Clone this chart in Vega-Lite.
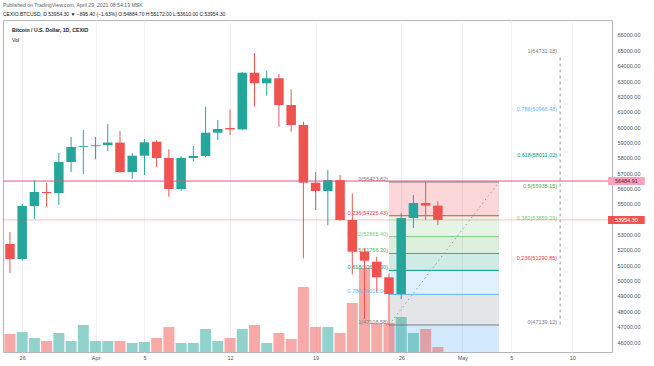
{
  "$schema": "https://vega.github.io/schema/vega-lite/v6.json",
  "width": 609,
  "height": 332,
  "autosize": {"type": "none"},
  "padding": {"left": 3, "top": 20, "right": 42, "bottom": 14},
  "background": "#ffffff",
  "config": {
    "font": "Liberation Sans",
    "view": {"stroke": "#b2b5be", "strokeWidth": 1},
    "axisX": {"labelFontSize": 5.5, "labelColor": "#4c525e", "labelPadding": 3, "labelFlush": false, "labelOverlap": false, "ticks": false, "domain": false, "grid": true, "gridColor": "#eef0f4", "gridWidth": 1},
    "axisY": {"labelFontSize": 5.5, "labelColor": "#4c525e", "labelPadding": 5, "labelFlush": false, "labelOverlap": false, "ticks": false, "domain": false, "grid": true, "gridColor": "#eef0f4", "gridWidth": 1}
  },
  "title": {
    "text": "Published on TradingView.com, April 29, 2021 08:54:13 MSK",
    "subtitle": "CEXIO:BTCUSD, D 53954.30 ▼ −895.40 (−1.63%) O:54884.70 H:55172.00 L:53610.00 C:53954.30",
    "anchor": "start",
    "frame": "group",
    "offset": 3,
    "fontSize": 5.2,
    "fontWeight": "normal",
    "color": "#5d606b",
    "subtitleFontSize": 5,
    "subtitleColor": "#131722",
    "subtitleFontWeight": "normal",
    "subtitlePadding": 4
  },
  "datasets": {
    "candles": [
      {"date": "2021-03-25", "open": 52384, "high": 53166, "low": 50494, "close": 51407, "volume": 900},
      {"date": "2021-03-26", "open": 51407, "high": 55000, "low": 51300, "close": 54859, "volume": 1000},
      {"date": "2021-03-27", "open": 54859, "high": 56553, "low": 54012, "close": 55771, "volume": 700},
      {"date": "2021-03-28", "open": 55771, "high": 56358, "low": 54794, "close": 55700, "volume": 550},
      {"date": "2021-03-29", "open": 55700, "high": 58312, "low": 54925, "close": 57726, "volume": 950},
      {"date": "2021-03-30", "open": 57726, "high": 59354, "low": 57074, "close": 58703, "volume": 550},
      {"date": "2021-03-31", "open": 58703, "high": 59811, "low": 56944, "close": 58760, "volume": 1350},
      {"date": "2021-04-01", "open": 58760, "high": 59354, "low": 57902, "close": 58820, "volume": 550},
      {"date": "2021-04-02", "open": 58820, "high": 60202, "low": 58443, "close": 58990, "volume": 550},
      {"date": "2021-04-03", "open": 58990, "high": 59746, "low": 57000, "close": 57074, "volume": 550},
      {"date": "2021-04-04", "open": 57074, "high": 58312, "low": 56618, "close": 58137, "volume": 450},
      {"date": "2021-04-05", "open": 58137, "high": 59224, "low": 56879, "close": 59009, "volume": 500},
      {"date": "2021-04-06", "open": 59050, "high": 59150, "low": 57380, "close": 57987, "volume": 700},
      {"date": "2021-04-07", "open": 57987, "high": 58553, "low": 55465, "close": 55967, "volume": 1250},
      {"date": "2021-04-08", "open": 55967, "high": 58100, "low": 55837, "close": 57987, "volume": 450},
      {"date": "2021-04-09", "open": 57987, "high": 58768, "low": 57746, "close": 58117, "volume": 450},
      {"date": "2021-04-10", "open": 58117, "high": 61329, "low": 58032, "close": 59635, "volume": 1150},
      {"date": "2021-04-11", "open": 59635, "high": 60462, "low": 59159, "close": 59876, "volume": 550},
      {"date": "2021-04-12", "open": 59940, "high": 61159, "low": 59485, "close": 59850, "volume": 700},
      {"date": "2021-04-13", "open": 59850, "high": 63600, "low": 59800, "close": 63544, "volume": 1150},
      {"date": "2021-04-14", "open": 63544, "high": 64827, "low": 61329, "close": 62853, "volume": 1350},
      {"date": "2021-04-15", "open": 62853, "high": 63674, "low": 62045, "close": 63179, "volume": 450},
      {"date": "2021-04-16", "open": 63179, "high": 63459, "low": 60026, "close": 61440, "volume": 950},
      {"date": "2021-04-17", "open": 61440, "high": 62463, "low": 59700, "close": 60137, "volume": 650},
      {"date": "2021-04-18", "open": 60137, "high": 60352, "low": 51452, "close": 56377, "volume": 3250},
      {"date": "2021-04-19", "open": 56377, "high": 57074, "low": 54599, "close": 55837, "volume": 1250},
      {"date": "2021-04-20", "open": 55837, "high": 57205, "low": 53622, "close": 56553, "volume": 1250},
      {"date": "2021-04-21", "open": 56553, "high": 56879, "low": 53900, "close": 53947, "volume": 950},
      {"date": "2021-04-22", "open": 53947, "high": 55687, "low": 50400, "close": 51883, "volume": 2450},
      {"date": "2021-04-23", "open": 51883, "high": 52123, "low": 47500, "close": 51296, "volume": 4200},
      {"date": "2021-04-24", "open": 51231, "high": 51557, "low": 49275, "close": 50214, "volume": 1450},
      {"date": "2021-04-25", "open": 50214, "high": 50475, "low": 47108.58, "close": 49126, "volume": 1450},
      {"date": "2021-04-26", "open": 49126, "high": 54404, "low": 48800, "close": 54077, "volume": 1750},
      {"date": "2021-04-27", "open": 54077, "high": 55576, "low": 53426, "close": 55055, "volume": 950},
      {"date": "2021-04-28", "open": 55055, "high": 56423.82, "low": 53947, "close": 54884.7, "volume": 1150},
      {"date": "2021-04-29", "open": 54884.7, "high": 55172.0, "low": 53610.0, "close": 53954.3, "volume": 250}
    ],
    "fibA": [
      {"lvl": "0", "price": 56423.82, "label": "0(56423.82)", "date": "2021-04-25", "end": "2021-05-04"},
      {"lvl": "0.236", "price": 54225.43, "label": "0.236(54225.43)", "date": "2021-04-25", "end": "2021-05-04"},
      {"lvl": "0.382", "price": 52865.40, "label": "0.382(52865.40)", "date": "2021-04-25", "end": "2021-05-04"},
      {"lvl": "0.5", "price": 51766.20, "label": "0.5(51766.20)", "date": "2021-04-25", "end": "2021-05-04"},
      {"lvl": "0.618", "price": 50667.00, "label": "0.618(50667.00)", "date": "2021-04-25", "end": "2021-05-04"},
      {"lvl": "0.786", "price": 49102.04, "label": "0.786(49102.04)", "date": "2021-04-25", "end": "2021-05-04"},
      {"lvl": "1", "price": 47108.58, "label": "1(47108.58)", "date": "2021-04-25", "end": "2021-05-04"}
    ],
    "fibABands": [
      {"lvl": "0.236", "top": 56423.82, "bottom": 54225.43, "date": "2021-04-25", "end": "2021-05-04"},
      {"lvl": "0.382", "top": 54225.43, "bottom": 52865.40, "date": "2021-04-25", "end": "2021-05-04"},
      {"lvl": "0.5", "top": 52865.40, "bottom": 51766.20, "date": "2021-04-25", "end": "2021-05-04"},
      {"lvl": "0.618", "top": 51766.20, "bottom": 50667.00, "date": "2021-04-25", "end": "2021-05-04"},
      {"lvl": "0.786", "top": 50667.00, "bottom": 49102.04, "date": "2021-04-25", "end": "2021-05-04"},
      {"lvl": "1", "top": 49102.04, "bottom": 47108.58, "date": "2021-04-25", "end": "2021-05-04"},
      {"lvl": "1.618", "top": 47108.58, "bottom": 41351.76, "date": "2021-04-25", "end": "2021-05-04"}
    ],
    "fibB": [
      {"lvl": "1", "price": 64731.18, "label": "1(64731.18)", "date": "2021-05-09"},
      {"lvl": "0.786", "price": 60966.48, "label": "0.786(60966.48)", "date": "2021-05-09"},
      {"lvl": "0.618", "price": 58011.02, "label": "0.618(58011.02)", "date": "2021-05-09"},
      {"lvl": "0.5", "price": 55935.15, "label": "0.5(55935.15)", "date": "2021-05-09"},
      {"lvl": "0.382", "price": 53859.29, "label": "0.382(53859.29)", "date": "2021-05-09"},
      {"lvl": "0.236", "price": 51290.85, "label": "0.236(51290.85)", "date": "2021-05-09"},
      {"lvl": "0", "price": 47139.12, "label": "0(47139.12)", "date": "2021-05-09"}
    ],
    "trend": [
      {"date": "2021-04-25", "price": 47108.58},
      {"date": "2021-05-04", "price": 56423.82}
    ],
    "fibBLine": [
      {"date": "2021-05-09", "from": 47139.12, "to": 64731.18}
    ],
    "one": [{}]
  },
  "resolve": {"scale": {"y": "independent"}},
  "layer": [
    {
      "data": {"name": "fibABands"},
      "mark": {"type": "rect", "opacity": 0.2, "clip": true},
      "encoding": {
        "x": {"field": "date", "type": "temporal",
              "scale": {"type": "utc", "nice": false, "domain": [1616616600000, 1620849600000]},
              "axis": {"title": null, "values": [1616716800000, 1617235200000, 1617580800000, 1618185600000, 1618790400000, 1619395200000, 1619827200000, 1620172800000, 1620604800000], "labelExpr": "utcdate(datum.value) == 1 ? utcFormat(datum.value, '%b') : utcFormat(datum.value, '%-d')"}},
        "x2": {"field": "end"},
        "y": {"field": "top", "type": "quantitative", "axis": null, "scale": {"domain": [45349, 66977], "nice": false, "zero": false}},
        "y2": {"field": "bottom"},
        "color": {"field": "lvl", "type": "nominal", "legend": null,
                  "scale": {"domain": ["0", "0.236", "0.382", "0.5", "0.618", "0.786", "1", "1.618"],
                            "range": ["#787b86", "#f23645", "#81c784", "#4caf50", "#089981", "#64b5f6", "#787b86", "#2196f3"]}}
      }
    },
    {
      "data": {"name": "candles"},
      "mark": {"type": "bar", "size": 11, "opacity": 0.5, "clip": true},
      "encoding": {
        "x": {"field": "date", "type": "temporal",
              "scale": {"type": "utc", "nice": false, "domain": [1616616600000, 1620849600000]},
              "axis": {"title": null, "values": [1616716800000, 1617235200000, 1617580800000, 1618185600000, 1618790400000, 1619395200000, 1619827200000, 1620172800000, 1620604800000], "labelExpr": "utcdate(datum.value) == 1 ? utcFormat(datum.value, '%b') : utcFormat(datum.value, '%-d')"}},
        "y": {"field": "volume", "type": "quantitative", "axis": null, "scale": {"domain": [0, 16600], "nice": false}},
        "color": {"condition": {"test": "datum.close >= datum.open", "value": "#26a69a"}, "value": "#ef5350"}
      }
    },
    {
      "layer": [
        {
          "data": {"name": "fibA"},
          "mark": {"type": "rule", "strokeWidth": 1},
          "encoding": {
            "x": {"field": "date", "type": "temporal",
                  "scale": {"type": "utc", "nice": false, "domain": [1616616600000, 1620849600000]},
                  "axis": {"title": null, "values": [1616716800000, 1617235200000, 1617580800000, 1618185600000, 1618790400000, 1619395200000, 1619827200000, 1620172800000, 1620604800000], "labelExpr": "utcdate(datum.value) == 1 ? utcFormat(datum.value, '%b') : utcFormat(datum.value, '%-d')"}},
            "x2": {"field": "end"},
            "y": {"field": "price", "type": "quantitative",
                  "scale": {"domain": [45349, 66977], "nice": false, "zero": false},
                  "axis": {"orient": "right", "title": null, "tickCount": 22, "labelExpr": "datum.value == 54000 ? '' : format(datum.value, '.2f')"}},
            "color": {"field": "lvl", "type": "nominal", "legend": null}
          }
        },
        {
          "data": {"name": "fibA"},
          "mark": {"type": "text", "align": "right", "baseline": "bottom", "dx": -1, "fontSize": 5.5},
          "encoding": {
            "x": {"field": "date", "type": "temporal",
                  "axis": {"title": null, "values": [1616716800000, 1617235200000, 1617580800000, 1618185600000, 1618790400000, 1619395200000, 1619827200000, 1620172800000, 1620604800000], "labelExpr": "utcdate(datum.value) == 1 ? utcFormat(datum.value, '%b') : utcFormat(datum.value, '%-d')"}},
            "y": {"field": "price", "type": "quantitative",
                  "axis": {"orient": "right", "title": null, "tickCount": 22, "labelExpr": "datum.value == 54000 ? '' : format(datum.value, '.2f')"}},
            "text": {"field": "label"},
            "color": {"field": "lvl", "type": "nominal", "legend": null}
          }
        },
        {
          "data": {"name": "trend"},
          "mark": {"type": "line", "strokeDash": [1.5, 3], "strokeWidth": 1, "color": "#9598a1"},
          "encoding": {
            "x": {"field": "date", "type": "temporal",
                  "axis": {"title": null, "values": [1616716800000, 1617235200000, 1617580800000, 1618185600000, 1618790400000, 1619395200000, 1619827200000, 1620172800000, 1620604800000], "labelExpr": "utcdate(datum.value) == 1 ? utcFormat(datum.value, '%b') : utcFormat(datum.value, '%-d')"}},
            "y": {"field": "price", "type": "quantitative",
                  "axis": {"orient": "right", "title": null, "tickCount": 22, "labelExpr": "datum.value == 54000 ? '' : format(datum.value, '.2f')"}}
          }
        },
        {
          "data": {"name": "fibBLine"},
          "mark": {"type": "rule", "strokeDash": [3, 3], "strokeWidth": 1, "color": "#9598a1"},
          "encoding": {
            "x": {"field": "date", "type": "temporal",
                  "axis": {"title": null, "values": [1616716800000, 1617235200000, 1617580800000, 1618185600000, 1618790400000, 1619395200000, 1619827200000, 1620172800000, 1620604800000], "labelExpr": "utcdate(datum.value) == 1 ? utcFormat(datum.value, '%b') : utcFormat(datum.value, '%-d')"}},
            "y": {"field": "from", "type": "quantitative",
                  "axis": {"orient": "right", "title": null, "tickCount": 22, "labelExpr": "datum.value == 54000 ? '' : format(datum.value, '.2f')"}},
            "y2": {"field": "to"}
          }
        },
        {
          "data": {"name": "fibB"},
          "mark": {"type": "text", "align": "right", "baseline": "bottom", "dx": -3, "fontSize": 5.5},
          "encoding": {
            "x": {"field": "date", "type": "temporal",
                  "axis": {"title": null, "values": [1616716800000, 1617235200000, 1617580800000, 1618185600000, 1618790400000, 1619395200000, 1619827200000, 1620172800000, 1620604800000], "labelExpr": "utcdate(datum.value) == 1 ? utcFormat(datum.value, '%b') : utcFormat(datum.value, '%-d')"}},
            "y": {"field": "price", "type": "quantitative",
                  "axis": {"orient": "right", "title": null, "tickCount": 22, "labelExpr": "datum.value == 54000 ? '' : format(datum.value, '.2f')"}},
            "text": {"field": "label"},
            "color": {"field": "lvl", "type": "nominal", "legend": null}
          }
        },
        {
          "data": {"name": "candles"},
          "mark": {"type": "rule", "strokeWidth": 1, "clip": true},
          "encoding": {
            "x": {"field": "date", "type": "temporal",
                  "axis": {"title": null, "values": [1616716800000, 1617235200000, 1617580800000, 1618185600000, 1618790400000, 1619395200000, 1619827200000, 1620172800000, 1620604800000], "labelExpr": "utcdate(datum.value) == 1 ? utcFormat(datum.value, '%b') : utcFormat(datum.value, '%-d')"}},
            "y": {"field": "low", "type": "quantitative",
                  "axis": {"orient": "right", "title": null, "tickCount": 22, "labelExpr": "datum.value == 54000 ? '' : format(datum.value, '.2f')"}},
            "y2": {"field": "high"},
            "color": {"condition": {"test": "datum.close >= datum.open", "value": "#26a69a"}, "value": "#ef5350"}
          }
        },
        {
          "data": {"name": "candles"},
          "mark": {"type": "bar", "size": 9.5, "clip": true},
          "encoding": {
            "x": {"field": "date", "type": "temporal",
                  "axis": {"title": null, "values": [1616716800000, 1617235200000, 1617580800000, 1618185600000, 1618790400000, 1619395200000, 1619827200000, 1620172800000, 1620604800000], "labelExpr": "utcdate(datum.value) == 1 ? utcFormat(datum.value, '%b') : utcFormat(datum.value, '%-d')"}},
            "y": {"field": "open", "type": "quantitative",
                  "axis": {"orient": "right", "title": null, "tickCount": 22, "labelExpr": "datum.value == 54000 ? '' : format(datum.value, '.2f')"}},
            "y2": {"field": "close"},
            "color": {"condition": {"test": "datum.close >= datum.open", "value": "#26a69a"}, "value": "#ef5350"}
          }
        },
        {
          "data": {"name": "one"},
          "mark": {"type": "rule", "color": "#ef5350", "strokeWidth": 1, "opacity": 0.35},
          "encoding": {
            "y": {"datum": 53954.3, "type": "quantitative",
                  "axis": {"orient": "right", "title": null, "tickCount": 22, "labelExpr": "datum.value == 54000 ? '' : format(datum.value, '.2f')"}}
          }
        },
        {
          "data": {"name": "one"},
          "mark": {"type": "rule", "color": "#e8557f", "strokeWidth": 1},
          "encoding": {
            "y": {"datum": 56484.91, "type": "quantitative",
                  "axis": {"orient": "right", "title": null, "tickCount": 22, "labelExpr": "datum.value == 54000 ? '' : format(datum.value, '.2f')"}}
          }
        },
        {
          "data": {"name": "one"},
          "mark": {"type": "text", "align": "left", "baseline": "middle", "fontSize": 5.2, "fontWeight": "bold", "color": "#131722"},
          "encoding": {
            "x": {"datum": 1616644800000, "type": "temporal",
                  "axis": {"title": null, "values": [1616716800000, 1617235200000, 1617580800000, 1618185600000, 1618790400000, 1619395200000, 1619827200000, 1620172800000, 1620604800000], "labelExpr": "utcdate(datum.value) == 1 ? utcFormat(datum.value, '%b') : utcFormat(datum.value, '%-d')"}},
            "y": {"datum": 66326, "type": "quantitative",
                  "axis": {"orient": "right", "title": null, "tickCount": 22, "labelExpr": "datum.value == 54000 ? '' : format(datum.value, '.2f')"}},
            "text": {"value": "Bitcoin / U.S. Dollar, 1D, CEXIO"}
          }
        },
        {
          "data": {"name": "one"},
          "mark": {"type": "text", "align": "left", "baseline": "middle", "fontSize": 5.2, "color": "#131722"},
          "encoding": {
            "x": {"datum": 1616644800000, "type": "temporal",
                  "axis": {"title": null, "values": [1616716800000, 1617235200000, 1617580800000, 1618185600000, 1618790400000, 1619395200000, 1619827200000, 1620172800000, 1620604800000], "labelExpr": "utcdate(datum.value) == 1 ? utcFormat(datum.value, '%b') : utcFormat(datum.value, '%-d')"}},
            "y": {"datum": 65674, "type": "quantitative",
                  "axis": {"orient": "right", "title": null, "tickCount": 22, "labelExpr": "datum.value == 54000 ? '' : format(datum.value, '.2f')"}},
            "text": {"value": "Vol"}
          }
        },
        {
          "data": {"name": "one"},
          "mark": {"type": "rect", "color": "#f5a3bd"},
          "encoding": {
            "x": {"datum": 1620856800000, "type": "temporal",
                  "axis": {"title": null, "values": [1616716800000, 1617235200000, 1617580800000, 1618185600000, 1618790400000, 1619395200000, 1619827200000, 1620172800000, 1620604800000], "labelExpr": "utcdate(datum.value) == 1 ? utcFormat(datum.value, '%b') : utcFormat(datum.value, '%-d')"}},
            "x2": {"datum": 1621116000000},
            "y": {"datum": 56745, "type": "quantitative",
                  "axis": {"orient": "right", "title": null, "tickCount": 22, "labelExpr": "datum.value == 54000 ? '' : format(datum.value, '.2f')"}},
            "y2": {"datum": 56225}
          }
        },
        {
          "data": {"name": "one"},
          "mark": {"type": "text", "align": "center", "baseline": "middle", "fontSize": 5.5, "color": "#5b1a2e"},
          "encoding": {
            "x": {"datum": 1620986400000, "type": "temporal",
                  "axis": {"title": null, "values": [1616716800000, 1617235200000, 1617580800000, 1618185600000, 1618790400000, 1619395200000, 1619827200000, 1620172800000, 1620604800000], "labelExpr": "utcdate(datum.value) == 1 ? utcFormat(datum.value, '%b') : utcFormat(datum.value, '%-d')"}},
            "y": {"datum": 56484.91, "type": "quantitative",
                  "axis": {"orient": "right", "title": null, "tickCount": 22, "labelExpr": "datum.value == 54000 ? '' : format(datum.value, '.2f')"}},
            "text": {"value": "56484.91"}
          }
        },
        {
          "data": {"name": "one"},
          "mark": {"type": "rect", "color": "#ef5350"},
          "encoding": {
            "x": {"datum": 1620856800000, "type": "temporal",
                  "axis": {"title": null, "values": [1616716800000, 1617235200000, 1617580800000, 1618185600000, 1618790400000, 1619395200000, 1619827200000, 1620172800000, 1620604800000], "labelExpr": "utcdate(datum.value) == 1 ? utcFormat(datum.value, '%b') : utcFormat(datum.value, '%-d')"}},
            "x2": {"datum": 1621116000000},
            "y": {"datum": 54214, "type": "quantitative",
                  "axis": {"orient": "right", "title": null, "tickCount": 22, "labelExpr": "datum.value == 54000 ? '' : format(datum.value, '.2f')"}},
            "y2": {"datum": 53694}
          }
        },
        {
          "data": {"name": "one"},
          "mark": {"type": "text", "align": "center", "baseline": "middle", "fontSize": 5.5, "color": "#ffffff"},
          "encoding": {
            "x": {"datum": 1620986400000, "type": "temporal",
                  "axis": {"title": null, "values": [1616716800000, 1617235200000, 1617580800000, 1618185600000, 1618790400000, 1619395200000, 1619827200000, 1620172800000, 1620604800000], "labelExpr": "utcdate(datum.value) == 1 ? utcFormat(datum.value, '%b') : utcFormat(datum.value, '%-d')"}},
            "y": {"datum": 53954.3, "type": "quantitative",
                  "axis": {"orient": "right", "title": null, "tickCount": 22, "labelExpr": "datum.value == 54000 ? '' : format(datum.value, '.2f')"}},
            "text": {"value": "53954.30"}
          }
        }
      ]
    }
  ]
}
